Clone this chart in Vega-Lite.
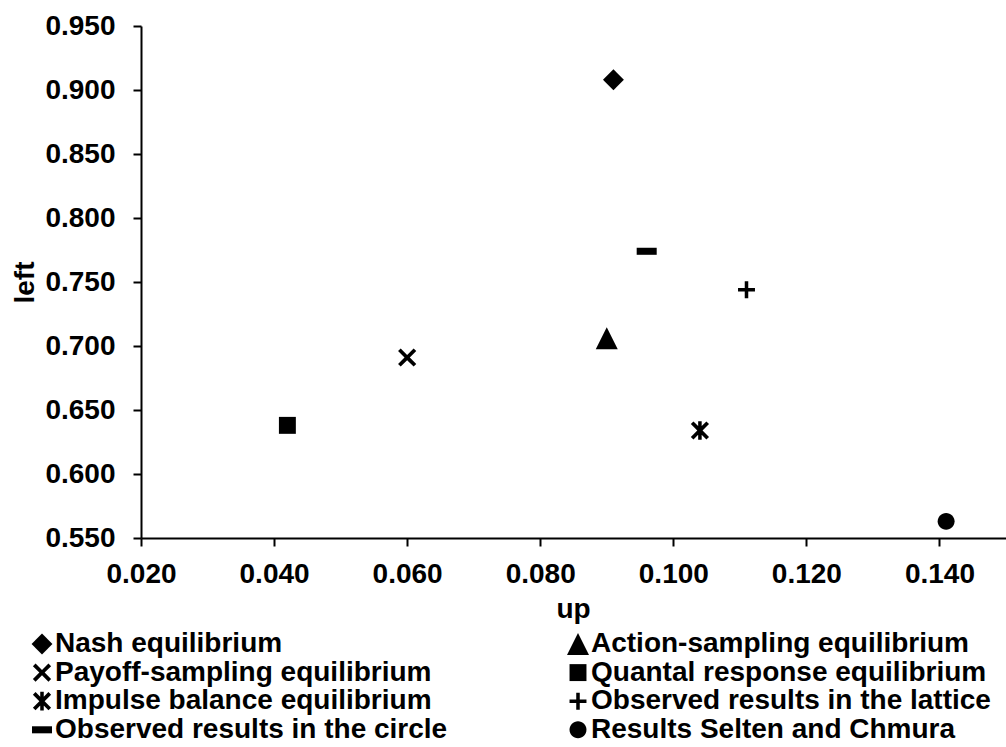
{
  "$schema": "https://vega.github.io/schema/vega-lite/v6.json",
  "autosize": {"type": "none"},
  "padding": {"left": 141, "top": 26, "right": 0, "bottom": 209},
  "width": 865,
  "height": 512,
  "background": "white",
  "config": {
    "view": {"stroke": null},
    "font": "Liberation Sans",
    "axis": {
      "grid": false,
      "domainColor": "black",
      "domainWidth": 2,
      "tickColor": "black",
      "tickWidth": 2,
      "tickSize": 8,
      "labelFont": "Liberation Sans",
      "labelFontSize": 28,
      "labelFontWeight": "bold",
      "labelColor": "black",
      "titleFont": "Liberation Sans",
      "titleFontSize": 28,
      "titleFontWeight": "bold",
      "titleColor": "black"
    }
  },
  "data": {
    "values": [
      {"series": "Nash equilibrium", "up": 0.091, "left": 0.908},
      {"series": "Action-sampling equilibrium", "up": 0.090, "left": 0.706},
      {"series": "Payoff-sampling equilibrium", "up": 0.060, "left": 0.691},
      {"series": "Quantal response equilibrium", "up": 0.042, "left": 0.638},
      {"series": "Impulse balance equilibrium", "up": 0.104, "left": 0.634},
      {"series": "Observed results in the lattice", "up": 0.111, "left": 0.744},
      {"series": "Observed results in the circle", "up": 0.096, "left": 0.774},
      {"series": "Results Selten and Chmura", "up": 0.141, "left": 0.563}
    ]
  },
  "mark": {"type": "point", "filled": true, "color": "black", "opacity": 1, "size": 484, "strokeWidth": 0},
  "encoding": {
    "x": {
      "field": "up",
      "type": "quantitative",
      "title": "up",
      "scale": {"domain": [0.02, 0.15], "nice": false, "zero": false},
      "axis": {
        "values": [0.02, 0.04, 0.06, 0.08, 0.1, 0.12, 0.14],
        "format": ".3f",
        "labelPadding": 14,
        "labelFlush": false,
        "labelOverlap": false,
        "titleBaseline": "alphabetic",
        "titleY": 79,
        "titleX": 432
      }
    },
    "y": {
      "field": "left",
      "type": "quantitative",
      "title": "left",
      "scale": {"domain": [0.55, 0.95], "nice": false, "zero": false},
      "axis": {
        "values": [0.55, 0.6, 0.65, 0.7, 0.75, 0.8, 0.85, 0.9, 0.95],
        "format": ".3f",
        "labelPadding": 18,
        "labelFlush": false,
        "labelOverlap": false,
        "titleBaseline": "alphabetic",
        "titleAngle": -90,
        "titleX": -108,
        "titleY": 256
      }
    },
    "shape": {
      "field": "series",
      "type": "nominal",
      "scale": {
        "domain": [
          "Nash equilibrium",
          "Action-sampling equilibrium",
          "Payoff-sampling equilibrium",
          "Quantal response equilibrium",
          "Impulse balance equilibrium",
          "Observed results in the lattice",
          "Observed results in the circle",
          "Results Selten and Chmura"
        ],
        "range": [
          "M0,-0.95L0.95,0L0,0.95L-0.95,0Z",
          "M0,-1L1,1L-1,1Z",
          "M0.587,-0.827L0.827,-0.587L0.24,0L0.827,0.587L0.587,0.827L0,0.24L-0.587,0.827L-0.827,0.587L-0.24,0L-0.827,-0.587L-0.587,-0.827L0,-0.24Z",
          "M-0.77,-0.77L0.77,-0.77L0.77,0.77L-0.77,0.77Z",
          "M0.587,-0.827L0.827,-0.587L0.24,0L0.827,0.587L0.587,0.827L0,0.24L-0.587,0.827L-0.827,0.587L-0.24,0L-0.827,-0.587L-0.587,-0.827L0,-0.24ZM-0.16,-0.85L0.16,-0.85L0.16,0.85L-0.16,0.85Z",
          "M-0.16,-0.77L0.16,-0.77L0.16,-0.16L0.77,-0.16L0.77,0.16L0.16,0.16L0.16,0.77L-0.16,0.77L-0.16,0.16L-0.77,0.16L-0.77,-0.16L-0.16,-0.16Z",
          "M-0.91,-0.32L0.91,-0.32L0.91,0.32L-0.91,0.32Z",
          "M0.77,0A0.77,0.77 0 1,1 -0.77,0A0.77,0.77 0 1,1 0.77,0Z"
        ]
      },
      "legend": {
        "title": null,
        "orient": "none",
        "legendX": -113,
        "legendY": 604,
        "columns": 2,
        "direction": "horizontal",
        "columnPadding": 116,
        "rowPadding": 0.6,
        "padding": 0,
        "labelFont": "Liberation Sans",
        "labelFontSize": 28,
        "labelFontWeight": "bold",
        "labelColor": "black",
        "labelLimit": 600,
        "labelOffset": -1,
        "symbolSize": 484,
        "symbolFillColor": "black",
        "symbolStrokeWidth": 0,
        "symbolOpacity": 1
      }
    }
  }
}
